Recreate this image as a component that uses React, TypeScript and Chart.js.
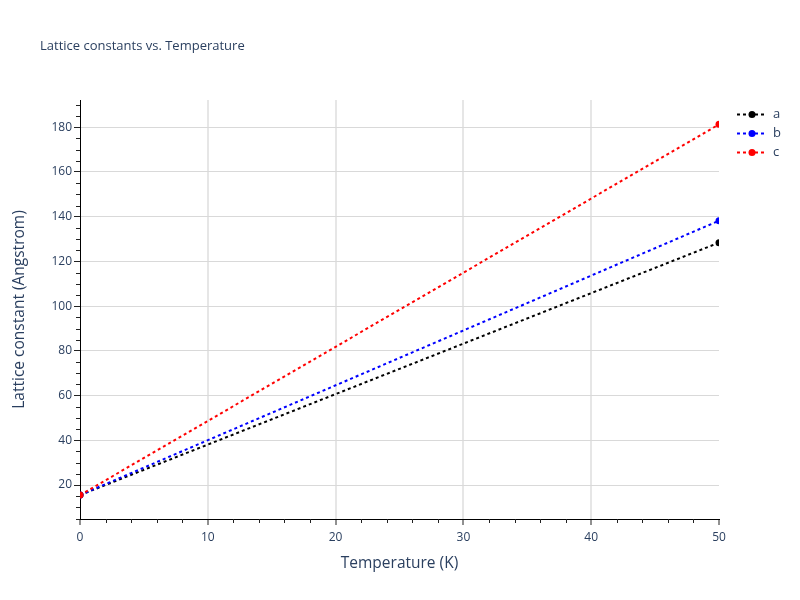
import { useEffect, useRef } from 'react';
import { Chart, registerables } from 'chart.js';

Chart.register(...registerables);

const temperatures = [0, 50];
const latticeA = [15.5, 128.4];
const latticeB = [15.5, 138.2];
const latticeC = [15.5, 181.3];
const seriesNames = ['a', 'b', 'c'];
const seriesColors = ['#000000', '#0000ff', '#ff0000'];

const FONT = '"Open Sans", verdana, arial, sans-serif';
const TEXT_COLOR = '#2a3f5f';

// minor ticks, chart title and plotly-like legend
const extrasPlugin = {
    id: 'extras',
    afterDraw(chart: any) {
        const ctx = chart.ctx;
        const xScale = chart.scales.x;
        const yScale = chart.scales.y;
        const area = chart.chartArea;
        ctx.save();
        ctx.strokeStyle = '#222';
        ctx.lineWidth = 1;
        ctx.beginPath();
        for (let v = 0; v <= 50; v += 2) {
            if (v % 10 === 0) continue;
            const px = Math.round(xScale.getPixelForValue(v)) + 0.5;
            ctx.moveTo(px, area.bottom);
            ctx.lineTo(px, area.bottom + 4);
        }
        for (let v = 5; v <= 190; v += 5) {
            if (v % 20 === 0) continue;
            const py = Math.round(yScale.getPixelForValue(v)) + 0.5;
            ctx.moveTo(area.left, py);
            ctx.lineTo(area.left - 4, py);
        }
        ctx.stroke();

        ctx.fillStyle = TEXT_COLOR;
        ctx.font = '13px ' + FONT;
        ctx.textBaseline = 'middle';
        ctx.textAlign = 'left';
        ctx.fillText('Lattice constants vs. Temperature', 40, 46);

        chart.data.datasets.forEach((ds: any, i: number) => {
            const y = 114.5 + i * 19;
            ctx.strokeStyle = ds.borderColor;
            ctx.lineWidth = 2;
            ctx.setLineDash([3, 3]);
            ctx.beginPath();
            ctx.moveTo(737, y);
            ctx.lineTo(767, y);
            ctx.stroke();
            ctx.setLineDash([]);
            ctx.fillStyle = ds.borderColor;
            ctx.beginPath();
            ctx.arc(752, y, 3.5, 0, Math.PI * 2);
            ctx.fill();
            ctx.fillStyle = TEXT_COLOR;
            ctx.font = '13px ' + FONT;
            ctx.fillText(ds.label, 773, y);
        });
        ctx.restore();
    },
};

const App = () => {
    const chartRef = useRef<HTMLCanvasElement | null>(null);

    useEffect(() => {
        document.body.style.margin = '0';
        if (!chartRef.current) return;
        const ctx = chartRef.current.getContext('2d');
        if (!ctx) return;

        const values = [latticeA, latticeB, latticeC];
        const datasets = values.map((vals, i) => ({
            label: seriesNames[i],
            data: temperatures.map((t, j) => ({ x: t, y: vals[j] })),
            borderColor: seriesColors[i],
            backgroundColor: seriesColors[i],
            borderWidth: 2,
            borderDash: [3, 3],
            pointRadius: 3.5,
            pointBorderWidth: 0,
            tension: 0,
            clip: 0,
            order: 2 - i,
        }));

        const myChart = new Chart(ctx, {
            type: 'line',
            data: { datasets },
            plugins: [extrasPlugin],
            options: {
                responsive: false,
                animation: false,
                layout: { padding: { top: 100, right: 81, bottom: 0, left: 0 } },
                plugins: {
                    legend: { display: false },
                    title: { display: false },
                    tooltip: { enabled: false },
                },
                scales: {
                    x: {
                        type: 'linear',
                        min: 0,
                        max: 50,
                        afterFit: (scale: any) => { scale.height = 81; },
                        ticks: {
                            stepSize: 10,
                            padding: 5,
                            color: TEXT_COLOR,
                            font: { family: FONT, size: 12 },
                        },
                        grid: {
                            color: (c: any) => (c.tick && (c.tick.value === 0 || c.tick.value === 50) ? 'rgba(0,0,0,0)' : '#e6e6e6'),
                            lineWidth: 2,
                            tickColor: '#222',
                            tickWidth: 1,
                            tickLength: 6,
                        },
                        border: { color: '#000', width: 1 },
                        title: {
                            display: true,
                            text: 'Temperature (K)',
                            color: TEXT_COLOR,
                            font: { family: FONT, size: 15.5 },
                            padding: { top: 0, bottom: 27.5 },
                        },
                    },
                    y: {
                        type: 'linear',
                        min: 4.8,
                        max: 192.2,
                        afterFit: (scale: any) => { scale.width = 80; },
                        ticks: {
                            stepSize: 20,
                            includeBounds: false,
                            padding: 2,
                            color: TEXT_COLOR,
                            font: { family: FONT, size: 12 },
                        },
                        grid: {
                            color: '#d9d9d9',
                            lineWidth: 1,
                            tickColor: '#222',
                            tickWidth: 1,
                            tickLength: 6,
                        },
                        border: { color: '#000', width: 1 },
                        title: {
                            display: true,
                            text: 'Lattice constant (Angstrom)',
                            color: TEXT_COLOR,
                            font: { family: FONT, size: 15.5 },
                            padding: { top: 10.5, bottom: 0 },
                        },
                    },
                },
            },
        });

        return () => {
            myChart.destroy();
        };
    }, []);

    return (
        <div style={{ width: 800, height: 600 }}>
            <canvas ref={chartRef} width={800} height={600}></canvas>
        </div>
    );
};

export default App;
